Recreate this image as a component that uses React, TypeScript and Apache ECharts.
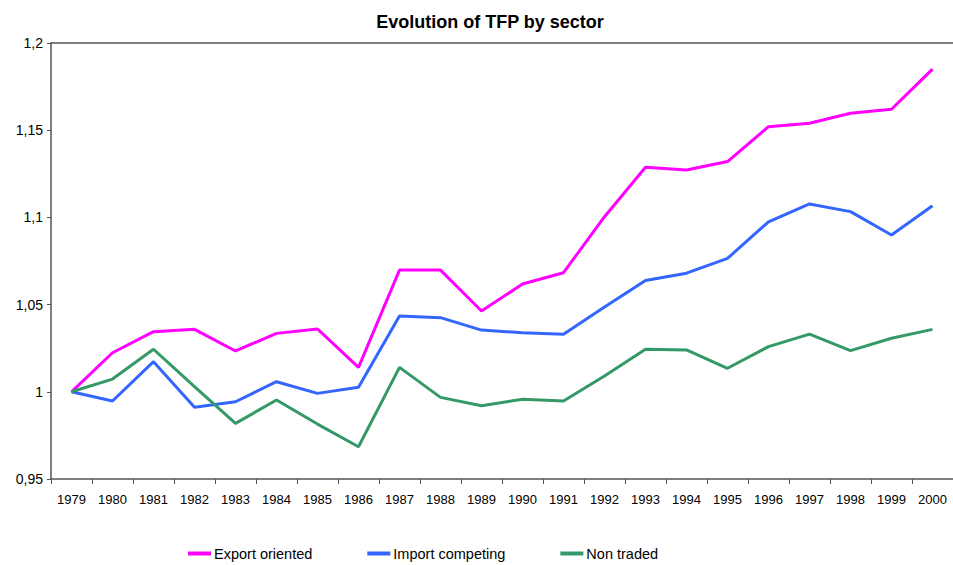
import React, { useEffect, useRef } from "react";
import * as echarts from "echarts";

const years = [
  "1979", "1980", "1981", "1982", "1983", "1984", "1985", "1986", "1987", "1988", "1989",
  "1990", "1991", "1992", "1993", "1994", "1995", "1996", "1997", "1998", "1999", "2000",
];

const exportOriented = [
  1.0, 1.0224, 1.0345, 1.0358, 1.0234, 1.0335, 1.036, 1.014, 1.0698, 1.0698, 1.0463,
  1.0618, 1.0683, 1.1004, 1.1288, 1.1272, 1.132, 1.152, 1.154, 1.1597, 1.162, 1.185,
];

const importCompeting = [
  1.0, 0.9947, 1.0173, 0.9911, 0.9943, 1.0058, 0.9991, 1.0026, 1.0435, 1.0425, 1.0354,
  1.0339, 1.033, 1.0486, 1.0638, 1.068, 1.0765, 1.0975, 1.1077, 1.1033, 1.0899, 1.1067,
];

const nonTraded = [
  1.0, 1.0073, 1.0244, 1.003, 0.9819, 0.9953, 0.9815, 0.9685, 1.014, 0.9968, 0.992,
  0.9957, 0.9947, 1.0091, 1.0244, 1.024, 1.0135, 1.0259, 1.0331, 1.0236, 1.0307, 1.0358,
];

const FONT = "'Liberation Sans', Arial, sans-serif";

export default function App() {
  const ref = useRef<HTMLDivElement>(null);

  useEffect(() => {
    if (!ref.current) return;
    const chart = echarts.init(ref.current, undefined, { renderer: "svg" });
    const mkLine = (name: string, data: number[], color: string) => ({
      name,
      type: "line",
      data,
      xAxisIndex: 0,
      yAxisIndex: 0,
      showSymbol: false,
      symbol: "none",
      lineStyle: { color, width: 3 },
      itemStyle: { color },
    });
    chart.setOption({
      animation: false,
      backgroundColor: "#ffffff",
      textStyle: { fontFamily: FONT },
      title: {
        text: "Evolution of TFP by sector",
        left: 485,
        top: 8,
        textAlign: "center",
        textStyle: { fontFamily: FONT, fontSize: 18, fontWeight: "bold", color: "#000" },
      },
      legend: {
        left: 183,
        top: 541,
        itemWidth: 23,
        itemHeight: 4,
        itemGap: 55,
        icon: "rect",
        textStyle: { fontFamily: FONT, fontSize: 14.5, color: "#000", padding: [0, 0, 0, -2] },
        data: ["Export oriented", "Import competing", "Non traded"],
      },
      grid: { left: 51, top: 43, right: -7, bottom: 86, containLabel: false },
      xAxis: [
        {
          type: "category",
          data: years,
          boundaryGap: true,
          axisLine: { show: true, lineStyle: { color: "#555", width: 1.5 } },
          axisTick: { show: true, interval: 0, length: 5, lineStyle: { color: "#555" } },
          axisLabel: { interval: 0, margin: 14, fontSize: 13, color: "#000", fontFamily: FONT },
          splitLine: { show: false },
        },
        {
          type: "category",
          data: years,
          position: "top",
          axisLine: { show: true, lineStyle: { color: "#555", width: 1.5 } },
          axisTick: { show: false },
          axisLabel: { show: false },
          splitLine: { show: false },
        },
      ],
      yAxis: {
        type: "value",
        min: 0.95,
        max: 1.2,
        interval: 0.05,
        axisLine: { show: true, lineStyle: { color: "#555", width: 1.5 } },
        axisTick: { show: true, length: 4, lineStyle: { color: "#555" } },
        axisLabel: {
          margin: 8,
          fontSize: 14,
          color: "#000",
          fontFamily: FONT,
          formatter: (v: number) => String(parseFloat(v.toFixed(2))).replace(".", ","),
        },
        splitLine: { show: false },
      },
      series: [
        mkLine("Export oriented", exportOriented, "#ff00ff"),
        mkLine("Import competing", importCompeting, "#3366ff"),
        mkLine("Non traded", nonTraded, "#339966"),
      ],
    });
    return () => chart.dispose();
  }, []);

  return (
    <div
      ref={ref}
      style={{ position: "fixed", left: 0, top: 0, width: 953, height: 565, background: "#fff" }}
    />
  );
}
